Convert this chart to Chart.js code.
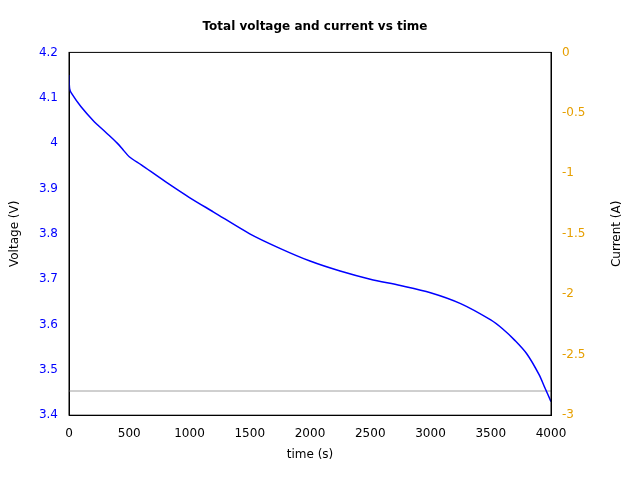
<!DOCTYPE html>
<html><head><meta charset="utf-8">
<script src="https://cdn.jsdelivr.net/npm/chart.js@4"></script>
<style>html,body{margin:0;background:#fff}#w{width:640px;height:480px}</style>
</head><body><div id="w"><canvas id="c"></canvas></div>
<script>
const timeS=[0,5,20,100,200,300,400,450,500,600,800,1000,1200,1500,1750,2000,2250,2500,2750,3000,3250,3500,3600,3700,3800,3900,3950,4000];
const voltage=[4.15,4.12,4.11,4.08,4.05,4.025,4.0,3.985,3.97,3.952,3.915,3.88,3.848,3.80,3.768,3.74,3.718,3.70,3.686,3.67,3.646,3.61,3.59,3.565,3.535,3.49,3.46,3.43];
const currentT=[0,4000];
const currentA=[-2.8,-2.8];
const F='DejaVu Sans';
new Chart(document.getElementById('c'),{
type:'line',
data:{datasets:[
{data:timeS.map((t,i)=>({x:t,y:voltage[i]})),borderColor:'#0000ff',borderWidth:1.5,pointRadius:0,yAxisID:'y',tension:0.3},
{data:currentT.map((t,i)=>({x:t,y:currentA[i]})),borderColor:'#a0a0a0',borderWidth:1,pointRadius:0,yAxisID:'y1'}
]},
options:{responsive:true,maintainAspectRatio:false,animation:false,
layout:{padding:{top:0,right:14,bottom:14,left:4}},
plugins:{legend:{display:false},tooltip:{enabled:false},
title:{display:true,text:'Total voltage and current vs time',color:'#000',font:{family:F,size:12,weight:'bold'},padding:{top:20,bottom:18}}},
scales:{
x:{type:'linear',min:0,max:4000,ticks:{stepSize:500,color:'#000',font:{family:F,size:12},maxRotation:0,callback:v=>String(v)},grid:{display:false},border:{color:'#000'},
title:{display:true,text:'time (s)',color:'#000',font:{family:F,size:12}}},
y:{position:'left',min:3.4,max:4.2,ticks:{stepSize:0.1,color:'#0000ff',font:{family:F,size:12},callback:v=>String(+v.toFixed(1))},grid:{display:false},border:{color:'#000'},
title:{display:true,text:'Voltage (V)',color:'#000',font:{family:F,size:12}},afterFit:s=>{s.width=65}},
y1:{position:'right',min:-3,max:0,ticks:{stepSize:0.5,color:'#e69f00',font:{family:F,size:12},callback:v=>String(+v.toFixed(1))},grid:{display:false},border:{color:'#000'},
title:{display:false},afterFit:s=>{s.width=75}}
}},
plugins:[{id:'box',afterDraw(ch){const a=ch.chartArea,x=ch.ctx;x.save();x.strokeStyle='#000';x.lineWidth=1;x.strokeRect(a.left,a.top,a.right-a.left,a.bottom-a.top);
x.translate(617,(a.top+a.bottom)/2);x.rotate(-Math.PI/2);x.fillStyle='#000';x.font='12px "DejaVu Sans"';x.textAlign='center';x.textBaseline='middle';x.fillText('Current (A)',0,0);x.restore();}}]
});
</script></body></html>
